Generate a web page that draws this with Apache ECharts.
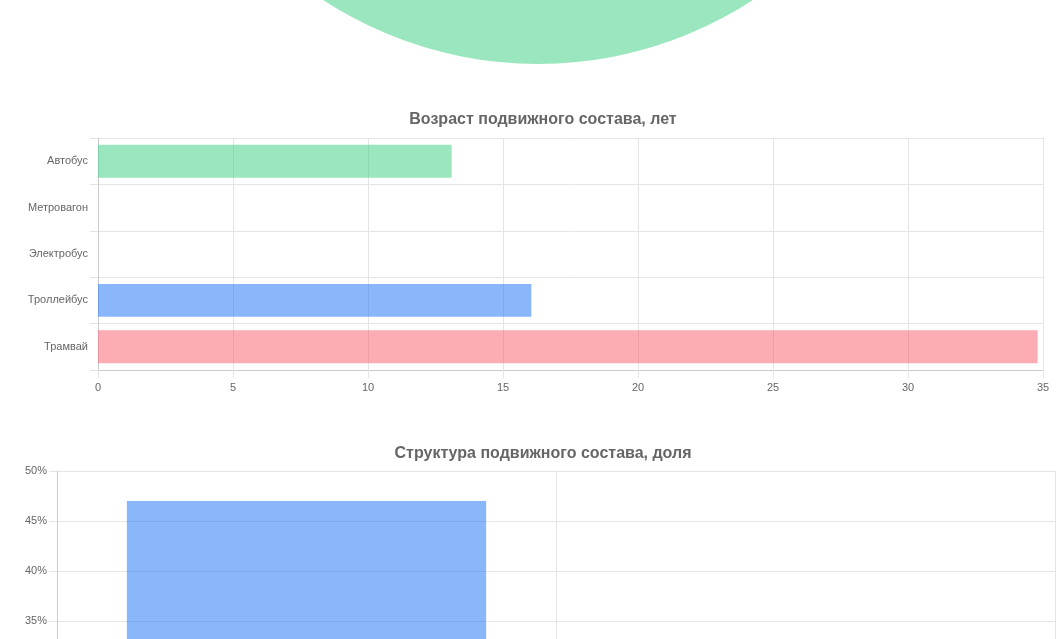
<!DOCTYPE html>
<html><head><meta charset="utf-8">
<script src="https://cdn.jsdelivr.net/npm/echarts@6/dist/echarts.min.js"></script>
<style>html,body{margin:0;padding:0;background:#fff;overflow:hidden}#c{width:1061px;height:1000px}</style>
</head><body><div id="c"></div>
<script>
const pieNames = ['Автобус'];
const pieValues = [100];
const ageCategories = ['Автобус','Метровагон','Электробус','Троллейбус','Трамвай'];
const ageValues = [13.1, 0, 0, 16.05, 34.8];
const ageColors = ['rgba(54,205,128,0.5)','rgba(54,162,235,0.5)','rgba(153,102,255,0.5)','rgba(22,112,245,0.5)','rgba(250,90,105,0.5)'];
const structCategories = ['Троллейбус','Трамвай'];
const structValues = [47, 30];
const structColors = ['rgba(22,112,245,0.5)','rgba(250,90,105,0.5)'];

const F = 'Liberation Sans, Arial, sans-serif';
const lbl = {color:'#666', fontSize:11, fontFamily:F};
const gl = {show:true, lineStyle:{color:'#e5e5e5'}};
const chart = echarts.init(document.getElementById('c'));
chart.setOption({
  animation:false,
  title:[
    {text:'Возраст подвижного состава, лет', left:538, top:107, textAlign:'center', textStyle:{color:'#666',fontSize:16,fontWeight:'bold',fontFamily:F}},
    {text:'Структура подвижного состава, доля', left:538, top:441, textAlign:'center', textStyle:{color:'#666',fontSize:16,fontWeight:'bold',fontFamily:F}}
  ],
  grid:[
    {left:98, width:945, top:138, height:232},
    {left:57, width:998, top:471, height:500}
  ],
  xAxis:[
    {gridIndex:0, type:'value', min:0, max:35, interval:5, axisLine:{show:true,lineStyle:{color:'#ccc'}}, axisTick:{show:true,length:8,lineStyle:{color:'#e5e5e5'}}, axisLabel:Object.assign({margin:12},lbl), splitLine:gl},
    {gridIndex:1, type:'category', data:structCategories, axisLine:{show:true,lineStyle:{color:'#ccc'}}, axisLabel:lbl, splitLine:gl}
  ],
  yAxis:[
    {gridIndex:0, type:'category', data:ageCategories, inverse:true, axisLine:{show:true,lineStyle:{color:'#ccc'}}, axisTick:{show:true,length:8,lineStyle:{color:'#e5e5e5'}}, axisLabel:Object.assign({margin:10},lbl), splitLine:gl},
    {gridIndex:1, type:'value', min:0, max:50, interval:5, axisLine:{show:true,lineStyle:{color:'#ccc'}}, axisTick:{show:true,length:8,lineStyle:{color:'#e5e5e5'}}, axisLabel:Object.assign({formatter:'{value}%',margin:10},lbl), splitLine:gl}
  ],
  series:[
    {type:'pie', center:[538,-329], radius:393, silent:true, label:{show:false}, labelLine:{show:false},
     data:pieNames.map((n,i)=>({name:n,value:pieValues[i],itemStyle:{color:'rgba(54,205,128,0.5)'}}))},
    {type:'bar', xAxisIndex:0, yAxisIndex:0, barWidth:'71%',
     data:ageValues.map((v,i)=>({value:v,itemStyle:{color:ageColors[i]}}))},
    {type:'bar', xAxisIndex:1, yAxisIndex:1, barWidth:'72%',
     data:structValues.map((v,i)=>({value:v,itemStyle:{color:structColors[i]}}))}
  ]
});
</script></body></html>
